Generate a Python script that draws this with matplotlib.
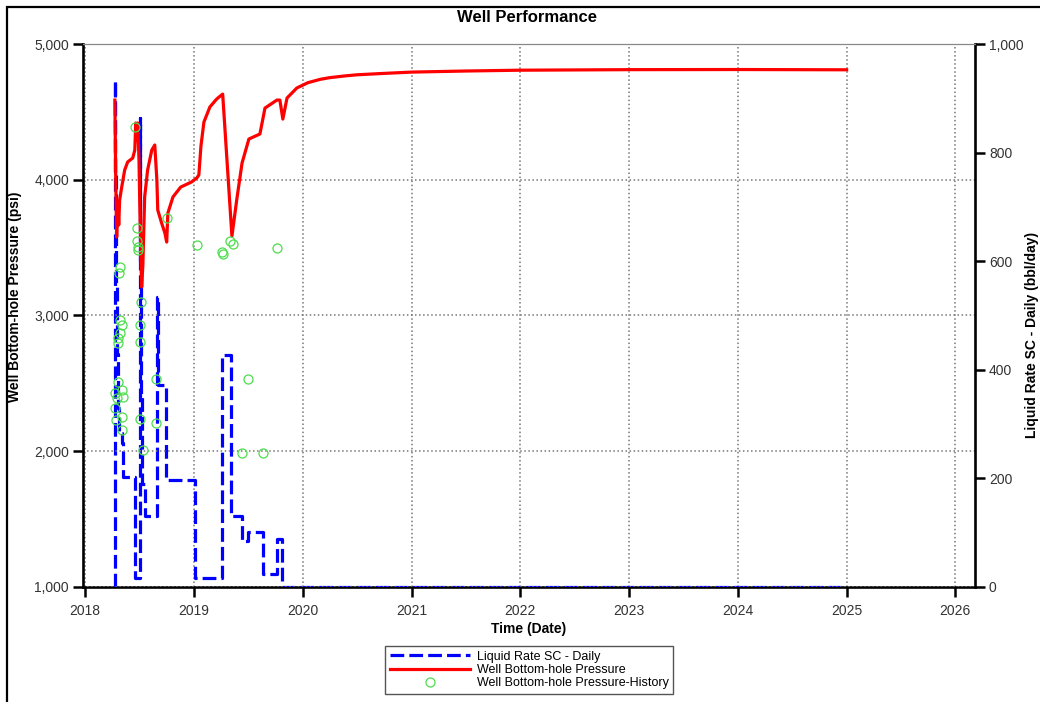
import numpy as np
import matplotlib
matplotlib.use('Agg')
import matplotlib.pyplot as plt
import matplotlib.dates as mdates
from matplotlib.ticker import FuncFormatter, MultipleLocator

plt.rcParams['font.family'] = ['Liberation Sans', 'DejaVu Sans']

# Liquid rate (bbl/day), step changes at each date
rate_dates = ['2018-04-10', '2018-04-11', '2018-04-13', '2018-04-15', '2018-04-17',
              '2018-04-20', '2018-04-24', '2018-05-04', '2018-05-08', '2018-06-17',
              '2018-07-03', '2018-07-05', '2018-07-08', '2018-07-12', '2018-07-20',
              '2018-08-30', '2018-09-03', '2018-10-01', '2019-01-06', '2019-04-06',
              '2019-05-05', '2019-06-12', '2019-07-02', '2019-08-21', '2019-10-07',
              '2019-10-24', '2025-01-01']
rate_vals = [0, 934, 760, 560, 430,
             330, 284, 265, 203, 17,
             864, 600, 350, 190, 131,
             534, 372, 197, 16, 427,
             131, 85, 101, 24, 88,
             0, 0]

# Simulated bottom-hole pressure (psi)
bhp_dates = ['2018-04-11', '2018-04-14', '2018-04-17', '2018-04-21', '2018-04-24',
             '2018-04-27', '2018-05-04', '2018-05-14', '2018-05-24', '2018-06-10',
             '2018-06-17', '2018-06-20', '2018-06-23', '2018-06-27', '2018-07-01',
             '2018-07-04', '2018-07-10', '2018-07-14', '2018-07-20', '2018-07-30',
             '2018-08-13', '2018-08-23', '2018-08-30', '2018-09-02', '2018-09-15',
             '2018-09-26', '2018-10-02', '2018-10-06', '2018-10-23', '2018-11-18',
             '2018-12-24', '2019-01-11', '2019-01-18', '2019-01-25', '2019-02-04',
             '2019-02-24', '2019-03-19', '2019-04-08', '2019-05-09', '2019-05-26',
             '2019-06-12', '2019-07-05', '2019-08-11', '2019-08-28', '2019-10-07',
             '2019-10-17', '2019-10-27', '2019-11-10', '2019-12-13', '2020-01-19',
             '2020-03-01', '2020-04-01', '2020-05-23', '2020-07-01', '2020-09-17',
             '2021-01-01', '2021-07-02', '2022-01-01', '2023-01-01', '2024-01-01',
             '2025-01-01']
bhp_vals = [4587, 4000, 3578, 3829, 3667,
            3851, 3946, 4072, 4131, 4160,
            4219, 4418, 4293, 4418, 4145,
            3777, 3210, 3372, 3873, 4072,
            4219, 4256, 3998, 3777, 3681,
            3607, 3541, 3755, 3873, 3946,
            3983, 4013, 4035, 4248, 4425,
            4536, 4595, 4631, 3585, 3865,
            4123, 4300, 4337, 4528, 4587,
            4587, 4447, 4602, 4676, 4715,
            4740, 4752, 4765, 4773, 4782,
            4793, 4801, 4807, 4811, 4812,
            4810]

# Measured bottom-hole pressure history (psi)
hist_dates = ['2018-06-17', '2018-06-23', '2018-06-23', '2018-06-27', '2018-06-27',
              '2018-10-02', '2019-01-11', '2019-04-05', '2019-04-08', '2019-05-02',
              '2019-05-12', '2019-10-07', '2018-04-27', '2018-04-24', '2018-07-07',
              '2018-04-27', '2018-05-04', '2018-04-27', '2018-04-21', '2018-04-21',
              '2018-07-04', '2018-07-04', '2018-08-26', '2018-04-21', '2018-04-11',
              '2018-05-04', '2018-04-17', '2018-05-08', '2018-04-11', '2018-07-04',
              '2018-08-26', '2018-04-14', '2018-05-04', '2018-05-04', '2018-07-14',
              '2019-07-02', '2019-06-12', '2019-08-21']
hist_vals = [4388, 3644, 3549, 3504, 3482,
             3718, 3519, 3468, 3453, 3549,
             3527, 3497, 3357, 3313, 3099,
             2967, 2930, 2871, 2834, 2797,
             2930, 2805, 2532, 2510, 2429,
             2451, 2392, 2400, 2319, 2237,
             2208, 2230, 2252, 2156, 2009,
             2532, 1987, 1987]

rate_t = np.array(rate_dates, dtype='datetime64[D]')
bhp_t = np.array(bhp_dates, dtype='datetime64[D]')
hist_t = np.array(hist_dates, dtype='datetime64[D]')

fig = plt.figure(figsize=(10.4, 7.02), dpi=100)

# frame around the whole page
fig.add_artist(plt.Rectangle((7 / 1040, -0.05), 1.1, 1 - 7 / 702 + 0.05,
                             transform=fig.transFigure, fill=False,
                             edgecolor='black', lw=1.6, clip_on=False))

left, right, top, bottom = 83 / 1040, 975 / 1040, 1 - 44 / 702, 1 - 587 / 702
ax_q = fig.add_axes([left, bottom, right - left, top - bottom])
ax_p = ax_q.twinx()

# rate goes on the right, pressure on the left (pressure drawn on top)
ax_p.yaxis.tick_left()
ax_p.yaxis.set_label_position('left')
ax_q.yaxis.tick_right()
ax_q.yaxis.set_label_position('right')

blue_line, = ax_q.plot(rate_t, rate_vals, drawstyle='steps-post', color='#0000ff',
                       lw=2.3, dashes=(4.3, 1.6), zorder=3,
                       label='Liquid Rate SC - Daily')
red_line, = ax_p.plot(bhp_t, bhp_vals, color='#ff0000', lw=2.3,
                      label='Well Bottom-hole Pressure')
hist_pts, = ax_p.plot(hist_t, hist_vals, ls='none', marker='o', ms=6.5, mew=0.9,
                      mfc='none', mec='#4ddd4d', label='Well Bottom-hole Pressure-History')

ax_q.set_xlim(np.datetime64('2017-12-25'), np.datetime64('2026-03-08'))
ax_q.set_ylim(0, 1000)
ax_p.set_ylim(1000, 5000)

ax_q.xaxis.set_major_locator(mdates.YearLocator())
ax_q.xaxis.set_major_formatter(mdates.DateFormatter('%Y'))
ax_p.yaxis.set_major_locator(MultipleLocator(1000))
ax_q.yaxis.set_major_locator(MultipleLocator(200))
comma = FuncFormatter(lambda v, _: f'{v:,.0f}')
ax_p.yaxis.set_major_formatter(comma)
ax_q.yaxis.set_major_formatter(comma)

ax_q.grid(axis='x', ls=':', color='#777777', lw=1.1)
ax_p.grid(axis='y', ls=':', color='#777777', lw=1.1)

for a in (ax_q, ax_p):
    a.tick_params(direction='out', length=7, width=1.8, labelsize=10,
                  labelcolor='#333333', pad=3)
    for s in a.spines.values():
        s.set_visible(False)
ax_q.tick_params(axis='x', pad=5)

for side in ('left', 'right'):
    ax_p.spines[side].set_visible(True)
    ax_p.spines[side].set_linewidth(1.9)
    ax_p.spines[side].set_color('black')
# bottom spine sits under the zero-rate line
ax_q.spines['bottom'].set_visible(True)
ax_q.spines['bottom'].set_linewidth(1.9)
ax_q.spines['bottom'].set_color('black')
ax_q.spines['bottom'].set_zorder(2.5)
ax_p.spines['top'].set_visible(True)
ax_p.spines['top'].set_linewidth(0.9)
ax_p.spines['top'].set_color('#888888')

ax_p.set_ylabel('Well Bottom-hole Pressure (psi)', fontsize=10, fontweight='bold')
ax_q.set_ylabel('Liquid Rate SC - Daily (bbl/day)', fontsize=10, fontweight='bold')
ax_q.set_xlabel('Time (Date)', fontsize=10, fontweight='bold', labelpad=3)
ax_p.yaxis.set_label_coords(-0.068, 0.534)
ax_q.yaxis.set_label_coords(1.056, 0.465)

fig.text(0.507, 0.975, 'Well Performance', ha='center', va='center',
         fontsize=12, fontweight='bold')

leg = fig.legend(handles=[blue_line, red_line, hist_pts], loc='center',
                 bbox_to_anchor=(0.509, 0.0456), fontsize=9, handlelength=6.4,
                 labelspacing=0.1, borderpad=0.35, handletextpad=0.6,
                 fancybox=False, framealpha=1, edgecolor='#555555')
leg.get_frame().set_linewidth(1.0)

fig.savefig('out.png', dpi=100)
